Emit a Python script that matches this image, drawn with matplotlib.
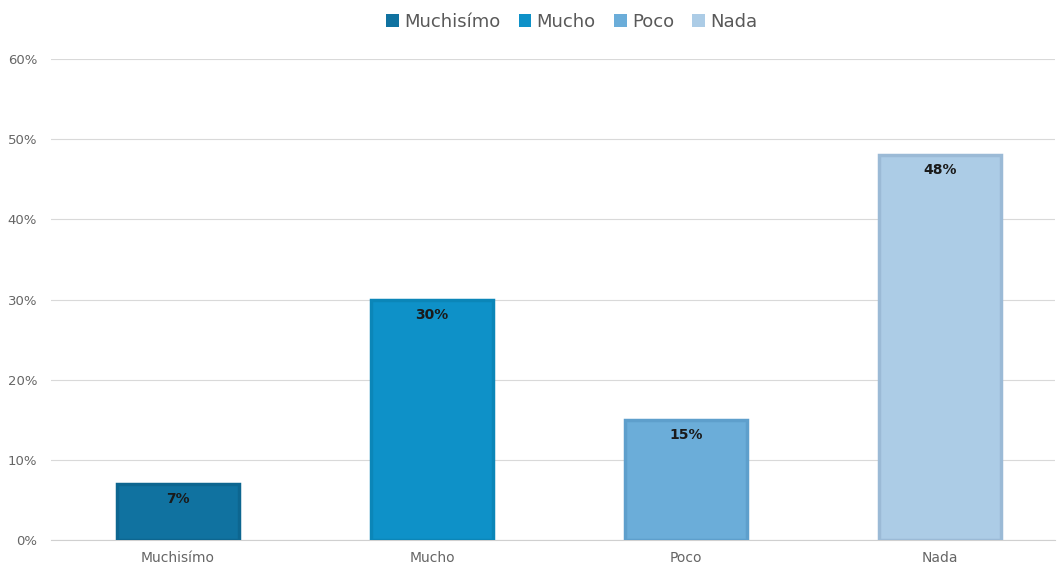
import matplotlib
matplotlib.use("Agg")
import matplotlib.pyplot as plt
from matplotlib.ticker import FuncFormatter

categories = ["Muchisímo", "Mucho", "Poco", "Nada"]
values = [7, 30, 15, 48]
fills = ["#1072a0", "#0e91c8", "#6badd9", "#acccE6"]
edges = ["#0d6690", "#0b86b8", "#5e9fcc", "#9bbad6"]

fig = plt.figure(figsize=(10.57, 5.66), dpi=100)
ax = fig.add_axes([51 / 1057, 1 - 540 / 566, 1004 / 1057, 481 / 566])

bars = ax.bar(range(len(categories)), values, width=0.48, color=fills,
              edgecolor=edges, linewidth=2.5, zorder=3)

for b, v in zip(bars, values):
    ax.text(b.get_x() + b.get_width() / 2, v - 1.0, f"{v}%", ha="center", va="top",
            fontsize=10, fontweight="bold", color="#1a1a1a", zorder=4)

ax.set_ylim(0, 60)
# plot area is cut off on the right like in the original
ax.set_xlim(-0.5, 3.453)
ax.set_yticks(range(0, 61, 10))
ax.yaxis.set_major_formatter(FuncFormatter(lambda y, _: f"{int(y)}%"))
ax.set_xticks(range(len(categories)))
ax.set_xticklabels(categories)
ax.grid(axis="y", color="#d9d9d9", linewidth=0.8, zorder=0)
for s in ["top", "right", "left"]:
    ax.spines[s].set_visible(False)
ax.spines["bottom"].set_color("#d0d0d0")
ax.tick_params(axis="both", length=0, labelsize=10, colors="#666666")
ax.tick_params(axis="y", pad=10, labelsize=9.5)
ax.tick_params(axis="x", pad=8)

leg = fig.legend(handles=list(bars), labels=categories, loc="upper center",
                 bbox_to_anchor=(0.541, 1.006), ncol=4, frameon=False, fontsize=13,
                 handlelength=0.7, handleheight=0.7, handletextpad=0.3, columnspacing=1.0)
for t in leg.get_texts():
    t.set_color("#595959")
for h, c in zip(leg.legend_handles, fills):
    h.set_edgecolor(c)
    h.set_linewidth(0)

fig.savefig("out.png", dpi=100)
